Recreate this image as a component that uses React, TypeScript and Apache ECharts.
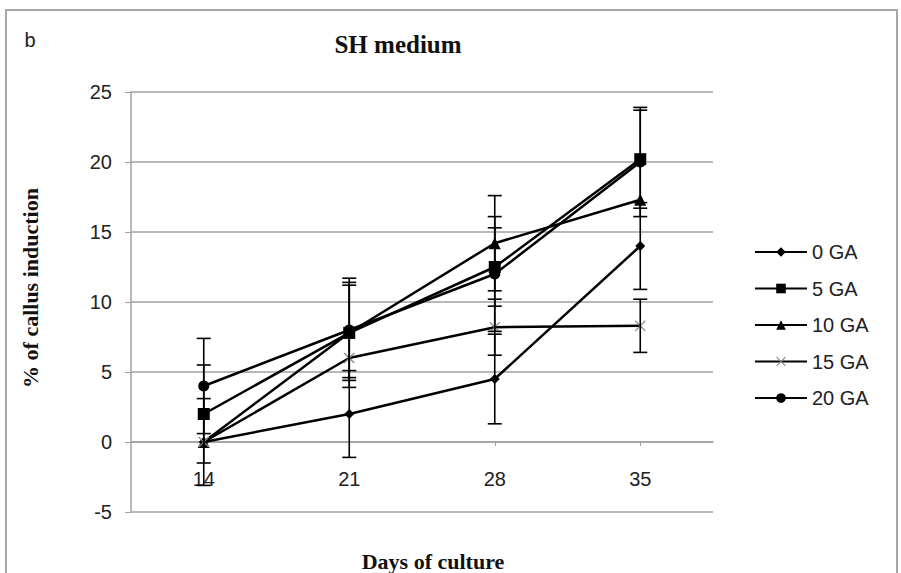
import React, { useEffect, useRef } from "react";
import * as echarts from "echarts";

const categories = ["14", "21", "28", "35"];
const seriesNames = ["0 GA", "5 GA", "10 GA", "15 GA", "20 GA"];
const ga0 = [0, 2, 4.5, 14];
const ga5 = [2, 7.8, 12.5, 20.2];
const ga10 = [0, 7.8, 14.2, 17.3];
const ga15 = [0, 6, 8.2, 8.3];
const ga20 = [4, 8, 12, 20];
const err0 = [3.1, 3.1, 3.2, 3.1];
const err5 = [3.5, 3.4, 2.8, 3.5];
const err10 = [0, 3.9, 3.4, 0];
const err15 = [0, 0, 2.0, 1.9];
const err20 = [3.4, 3.4, 4.1, 3.9];
const yMin = -5;
const yMax = 25;
const yStep = 5;

const crossPath =
  "path://M0,0.8L0.8,0L5,4.2L9.2,0L10,0.8L5.8,5L10,9.2L9.2,10L5,5.8L0.8,10L0,9.2L4.2,5Z";

export default function App() {
  const ref = useRef<HTMLDivElement>(null);
  useEffect(() => {
    document.body.style.margin = "0";
    const chart = echarts.init(ref.current!, undefined, { renderer: "svg" });
    const values = [ga0, ga5, ga10, ga15, ga20];
    const errs = [err0, err5, err10, err15, err20];
    const symbols = ["diamond", "rect", "triangle", crossPath, "circle"];
    const sizes = [10, 12, 12, 11, 11];
    const symColors = ["#000", "#000", "#000", "#888", "#000"];

    const errData: number[][] = [];
    values.forEach((vals, s) => {
      vals.forEach((v, i) => {
        const e = errs[s][i];
        if (e > 0) errData.push([i, v - e, v + e]);
      });
    });

    const lineSeries = values.map((vals, s) => ({
      name: seriesNames[s],
      type: "line",
      data: vals,
      symbol: symbols[s],
      symbolSize: sizes[s],
      showSymbol: true,
      lineStyle: { color: "#000", width: 2.5 },
      itemStyle: { color: symColors[s] },
      z: 3,
    }));

    const gridTop = 92;
    const gridBottom = 61;
    const plotH = 573 - gridTop - gridBottom;
    const zeroOffset = (plotH * (0 - yMin)) / (yMax - yMin);

    chart.setOption({
      animation: false,
      grid: { left: 131, right: 188, top: gridTop, bottom: gridBottom },
      legend: {
        data: seriesNames,
        orient: "vertical",
        left: 749,
        top: 237,
        itemWidth: 52,
        itemHeight: 12,
        itemGap: 16.5,
        textStyle: { fontFamily: "Liberation Sans", fontSize: 20, color: "#222" },
      },
      xAxis: {
        type: "category",
        data: categories,
        boundaryGap: true,
        position: "bottom",
        offset: -zeroOffset,
        axisLine: { onZero: false, lineStyle: { color: "#a0a0a0", width: 1.5 } },
        axisTick: { show: true, alignWithLabel: true, length: 4, lineStyle: { color: "#a0a0a0" } },
        axisLabel: { margin: 27, fontFamily: "Liberation Sans", fontSize: 20, color: "#222" },
      },
      yAxis: {
        type: "value",
        min: yMin,
        max: yMax,
        interval: yStep,
        axisLine: { show: true, lineStyle: { color: "#a0a0a0", width: 1.5 } },
        axisTick: { show: true, length: 6, lineStyle: { color: "#a0a0a0" } },
        axisLabel: { margin: 19, fontFamily: "Liberation Sans", fontSize: 20, color: "#222" },
        splitLine: { show: true, lineStyle: { color: "#a0a0a0", width: 1.5 } },
      },
      graphic: [
        {
          type: "rect",
          shape: { x: 6, y: 10, width: 891, height: 620 },
          style: { fill: "none", stroke: "#a6a6a6", lineWidth: 2 },
          silent: true,
        },
        {
          type: "text",
          x: 30,
          y: 40,
          style: {
            text: "b",
            font: "20px 'Liberation Sans'",
            fill: "#222",
            align: "center",
            verticalAlign: "middle",
          },
        },
        {
          type: "text",
          x: 398,
          y: 44,
          style: {
            text: "SH medium",
            font: "bold 25px 'Liberation Serif'",
            fill: "#111",
            align: "center",
            verticalAlign: "middle",
          },
        },
        {
          type: "text",
          x: 433,
          y: 561,
          style: {
            text: "Days of culture",
            font: "bold 22px 'Liberation Serif'",
            fill: "#111",
            align: "center",
            verticalAlign: "middle",
          },
        },
        {
          type: "text",
          x: 30,
          y: 288,
          rotation: Math.PI / 2,
          style: {
            text: "% of callus induction",
            font: "bold 22px 'Liberation Serif'",
            fill: "#111",
            align: "center",
            verticalAlign: "middle",
          },
        },
      ],
      series: [
        {
          type: "custom",
          name: "errors",
          data: errData,
          encode: { x: 0, y: [1, 2] },
          z: 4,
          renderItem: (params: any, api: any) => {
            const x = api.value(0);
            const lo = api.coord([x, api.value(1)]);
            const hi = api.coord([x, api.value(2)]);
            const w = 7;
            const st = { stroke: "#000", lineWidth: 1.6 };
            return {
              type: "group",
              children: [
                { type: "line", shape: { x1: lo[0], y1: lo[1], x2: hi[0], y2: hi[1] }, style: st },
                { type: "line", shape: { x1: lo[0] - w, y1: lo[1], x2: lo[0] + w, y2: lo[1] }, style: st },
                { type: "line", shape: { x1: hi[0] - w, y1: hi[1], x2: hi[0] + w, y2: hi[1] }, style: st },
              ],
            };
          },
        },
        ...lineSeries,
      ],
    });
    return () => chart.dispose();
  }, []);
  return (
    <div
      ref={ref}
      style={{ width: 901, height: 573, position: "absolute", left: 0, top: 0 }}
    />
  );
}
